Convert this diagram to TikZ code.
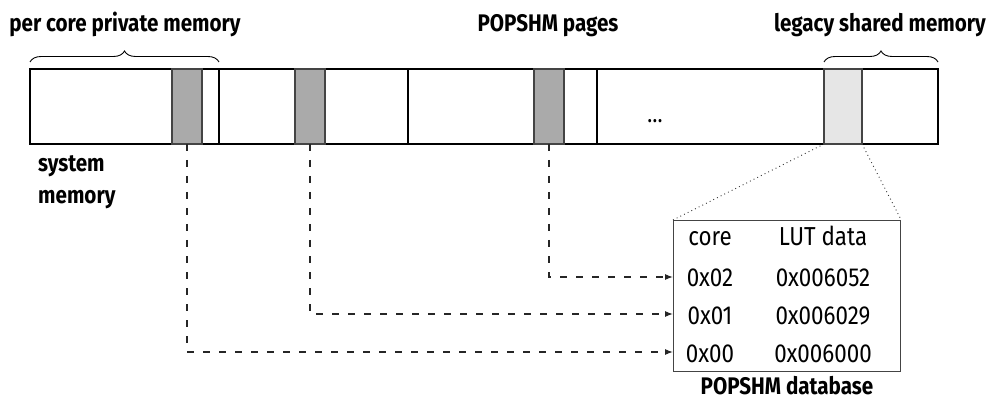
\documentclass[tikz,border=0pt]{standalone}
\usepackage{fontspec}
\setmainfont[FakeStretch=0.86]{Fira Sans}
\usetikzlibrary{arrows.meta,decorations.pathreplacing}
\definecolor{pagegray}{HTML}{AAAAAA}
\definecolor{legacygray}{HTML}{E6E6E6}
\definecolor{linegray}{HTML}{444444}
\tikzset{
  seg/.style={draw=black, line width=1.2pt, minimum height=75pt, inner sep=0pt, outer sep=0pt, anchor=north west},
  gblock/.style={draw=linegray, fill=pagegray, line width=1.2pt, minimum width=30pt, minimum height=75pt, inner sep=0pt, outer sep=0pt, anchor=north west},
  lblock/.style={draw=linegray, fill=legacygray, line width=1.2pt, minimum width=38pt, minimum height=75pt, inner sep=0pt, outer sep=0pt, anchor=north west},
  lbl/.style={font=\bfseries\fontsize{24}{29}\selectfont, inner sep=0pt, anchor=base},
  cell/.style={font=\fontsize{26}{30}\selectfont, inner sep=0pt, anchor=base},
  link/.style={draw=black!85, line width=1.1pt, dash pattern=on 7pt off 9pt, -{Latex[length=8pt,width=6pt]}},
  dots/.style={draw=black!80, line width=0.9pt, dash pattern=on 0.9pt off 3.2pt},
  bracestyle/.style={draw=black, line width=0.9pt, decorate, decoration={brace, amplitude=11pt}},
}
\begin{document}
\begin{tikzpicture}[x=1pt,y=-1pt]
\useasboundingbox (0,0) rectangle (989,401);
% memory segments
\node[seg, minimum width=189pt] (s1) at (30,69) {};
\node[seg, minimum width=189pt] (s2) at (219,69) {};
\node[seg, minimum width=189pt] (s3) at (408,69) {};
\node[seg, minimum width=227pt] (s4) at (597,69) {};
\node[seg, minimum width=114pt] (s5) at (824,69) {};
% page blocks
\node[gblock] (g1) at (172,69) {};
\node[gblock] (g2) at (295,69) {};
\node[gblock] (g3) at (534,69) {};
\node[lblock] (lg) at (824,69) {};
\node[font=\fontsize{24}{28}\selectfont, inner sep=0pt, anchor=base] (ell) at (655,123) {\dots};
% braces
\draw[bracestyle] (30,62) -- (219,62);
\draw[bracestyle] (824,62) -- (938,62);
% labels
\node[lbl] (l1) at (125,32) {per core private memory};
\node[lbl] (l2) at (548,32) {POPSHM pages};
\node[lbl] (l3) at (880,32) {legacy shared memory};
\node[lbl, anchor=base west] (sm1) at (38,172) {system};
\node[lbl, anchor=base west] (sm2) at (38,204) {memory};
% database
\node[draw=linegray, line width=1.2pt, minimum width=227pt, minimum height=151pt, inner sep=0pt, anchor=north west] (db) at (673,220) {};
\node[cell] (hc) at (710,246) {core};
\node[cell] (hl) at (823,246) {LUT data};
\node[cell] (r2) at (710,286) {0x02};
\node[cell] (d2) at (823,286) {0x006052};
\node[cell] (r1) at (710,324) {0x01};
\node[cell] (d1) at (823,324) {0x006029};
\node[cell] (r0) at (710,362) {0x00};
\node[cell] (d0) at (823,362) {0x006000};
\node[lbl] (dbl) at (787,394) {POPSHM database};
% arrow targets on the database edge
\coordinate (a2) at (673,277);
\coordinate (a1) at (673,314);
\coordinate (a0) at (673,352);
% links
\draw[link] (g3.south) |- (a2);
\draw[link] (g2.south) |- (a1);
\draw[link] (g1.south) |- (a0);
% dotted zoom lines
\draw[dots] (lg.south west) -- (db.north west);
\draw[dots] (lg.south east) -- (db.north east);
\end{tikzpicture}
\end{document}
